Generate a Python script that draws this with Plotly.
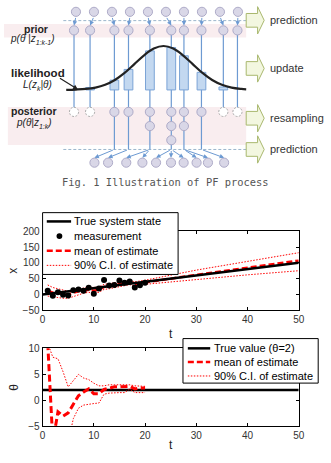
import plotly.graph_objects as go

# ---------------- data: state estimate (middle panel) ----------------
t_true = [0, 50]
x_true = [0, 100]
t_meas = list(range(1, 21))
x_meas = [12, -4, 7, -1, -3, 13, 16, 12, 21, 2, 19, 46, 28, 30, 44, 37, 41, 22, 29, 37]
t_est = list(range(1, 21)) + [30, 40, 50]
x_mean = [12, 6, 4, 1, 0, 5, 10, 12, 15, 12, 15, 24, 26, 28, 33, 35, 38, 32, 34, 38, 62, 84, 107]
x_upper = [30, 22, 18, 14, 10, 14, 18, 20, 23, 22, 24, 32, 34, 36, 40, 42, 44, 40, 42, 45, 77, 105, 132]
x_lower = [-5, -8, -10, -12, -12, -6, 0, 4, 7, 4, 7, 16, 18, 21, 25, 28, 31, 25, 27, 32, 48, 62, 75]

# ---------------- data: parameter estimate (bottom panel) ----------------
t_theta_true = [0, 50]
theta_true = [2, 2]
t_theta = list(range(1, 21))
theta_mean = [11, -8, -2.2, -3, -2.4, -0.8, 0.9, 1.6, 2.2, 1.3, 1.3, 2.1, 2.4, 2.6, 2.6, 2.6, 2.7, 2.2, 2.4, 2.4]
theta_upper = [11, 8.3, 8.0, 5.5, 2.6, 3.9, 5.0, 4.3, 4.0, 3.3, 2.8, 2.8, 3.0, 3.0, 3.0, 3.0, 3.0, 2.8, 2.7, 2.7]
theta_lower = [-20, -20, -15, -12, -8, -3.5, -1.5, -0.9, -0.7, -0.6, -0.5, 1.2, 1.4, 1.5, 1.5, 1.5, 2.2, 1.5, 1.5, 1.5]

x_ticks = [0, 10, 20, 30, 40, 50]
x_state_ticks = [-50, 0, 50, 100, 150, 200]
theta_ticks = [-5, 0, 5, 10]

# ---------------- data: PF illustration (top diagram) ----------------
top_x = [75, 93.5, 112, 130.5, 149, 167.5, 186, 204.5, 223, 241.5]
prior_x = [73, 89.5, 114.5, 129, 151, 173, 186, 204, 226.5, 241]
weights = [0, 2.5, 10, 21, 40, 43.5, 35, 18, 3, 0]
copies = [0, 0, 1, 1, 2, 3, 2, 1, 0, 0]
next_x = [94, 108, 126.7, 143.3, 157.3, 172.7, 185.7, 199, 210.7, 227.3]
curve_x = [65, 75, 85, 95, 105, 115, 125, 135, 145, 155, 165, 175, 185, 195, 205, 215, 225, 235, 245, 250]
curve_h = [0.1, 0.4, 1.0, 2.4, 5.3, 10.2, 17.4, 26.4, 35.5, 42.4, 45, 42.4, 35.5, 26.4, 17.4, 10.2, 5.3, 2.4, 1.0, 0.6]
stages = ["prediction", "update", "resampling", "prediction"]

# ---------------- layout constants ----------------
W, H = 331, 463
FONT = "Liberation Sans, Arial, sans-serif"


def px(v):
    return v / W


def py(v):
    return 1 - v / H


ROW_TOP, ROW_PRIOR, ROW_POST, ROW_STEP, ROW_NEXT = 7, 26, 109.5, 14.5, 161.5
BASE, R = 87, 4.7
DASH1, DASH2 = 16, 148
STAGE_Y = [15.7, 65, 116, 148]
BLUE = "#6d9ad2"
CIRC_FILL, CIRC_LINE = "#d9d7e7", "#aeabc8"
SUB = '<span style="font-size:7px;baseline-shift:-2.5px">{}</span>'

fig = go.Figure()

# middle panel
fig.add_trace(go.Scatter(x=t_est, y=x_upper, mode="lines", name="90% C.I. of estimate",
                         line=dict(color="red", width=1, dash="1.5px,1.5px"), xaxis="x", yaxis="y"))
fig.add_trace(go.Scatter(x=t_est, y=x_lower, mode="lines", showlegend=False,
                         line=dict(color="red", width=1, dash="1.5px,1.5px"), xaxis="x", yaxis="y"))
fig.add_trace(go.Scatter(x=t_est, y=x_mean, mode="lines", name="mean of estimate",
                         line=dict(color="red", width=2.5, dash="6px,3px"), xaxis="x", yaxis="y"))
fig.add_trace(go.Scatter(x=t_true, y=x_true, mode="lines", name="True system state",
                         line=dict(color="black", width=2.5), xaxis="x", yaxis="y"))
fig.add_trace(go.Scatter(x=t_meas, y=x_meas, mode="markers", name="measurement",
                         marker=dict(color="black", size=6), xaxis="x", yaxis="y"))

# bottom panel
fig.add_trace(go.Scatter(x=t_theta_true, y=theta_true, mode="lines", name="True value (θ=2)",
                         line=dict(color="black", width=2.7), xaxis="x2", yaxis="y2"))
fig.add_trace(go.Scatter(x=t_theta, y=theta_upper, mode="lines", name="90% C.I. of estimate",
                         line=dict(color="red", width=1, dash="1.5px,1.5px"), xaxis="x2", yaxis="y2"))
fig.add_trace(go.Scatter(x=t_theta, y=theta_lower, mode="lines", showlegend=False,
                         line=dict(color="red", width=1, dash="1.5px,1.5px"), xaxis="x2", yaxis="y2"))
fig.add_trace(go.Scatter(x=t_theta, y=theta_mean, mode="lines", name="mean of estimate",
                         line=dict(color="red", width=3, dash="7px,3.5px"), xaxis="x2", yaxis="y2"))

# diagram likelihood curve
fig.add_trace(go.Scatter(x=curve_x, y=[BASE - h for h in curve_h], mode="lines", line_shape="spline",
                         line=dict(color="#222", width=2.2), xaxis="x3", yaxis="y3", hoverinfo="skip"))

shapes = []
ann = []


def dshape(**kw):
    d = dict(xref="x3", yref="y3", layer="below")
    d.update(kw)
    shapes.append(d)


# pink bands
dshape(type="rect", x0=1, x1=250, y0=19.5, y1=33.3, fillcolor="#f9edef", line=dict(width=0))
dshape(type="rect", x0=5, x1=250, y0=104.5, y1=143.3, fillcolor="#f9edef", line=dict(width=0))
# dashed lines
for yv in (DASH1, DASH2):
    dshape(type="line", x0=62, x1=250, y0=yv, y1=yv, line=dict(color="#9db7cc", width=1, dash="3px,2px"))
# vertical particle lines
for i, xv in enumerate(prior_x):
    dshape(type="line", x0=xv, x1=xv, y0=ROW_PRIOR, y1=ROW_POST, line=dict(color=BLUE, width=1.2))
    if copies[i] > 0:
        dshape(type="line", x0=xv, x1=xv, y0=ROW_POST, y1=DASH2, line=dict(color=BLUE, width=1.2))
# weight boxes
for xv, w in zip(prior_x, weights):
    if w > 0:
        dshape(type="rect", x0=xv - 4.5, x1=xv + 4.5, y0=BASE - w, y1=BASE,
               fillcolor="#c3d8f0", line=dict(color="#7aa3d6", width=1))


def circle(xc, yc, dashed=False):
    if dashed:
        dshape(type="circle", x0=xc - R, x1=xc + R, y0=yc - R, y1=yc + R,
               fillcolor="white", line=dict(color="#aaaaaa", width=1, dash="2px,1.5px"))
    else:
        dshape(type="circle", x0=xc - R, x1=xc + R, y0=yc - R, y1=yc + R,
               fillcolor=CIRC_FILL, line=dict(color=CIRC_LINE, width=1))


for xv in top_x:
    circle(xv, ROW_TOP)
for xv in prior_x:
    circle(xv, ROW_PRIOR)
for i, xv in enumerate(prior_x):
    if copies[i] == 0:
        circle(xv, ROW_POST, dashed=True)
    for j in range(copies[i]):
        circle(xv, ROW_POST + j * ROW_STEP)
for xv in next_x:
    circle(xv, ROW_NEXT)

# green block arrows + stage labels
for yc, lab in zip(STAGE_Y, stages):
    path = (f"M 250 {yc-7} L 261.7 {yc-7} L 261.7 {yc-14} L 268.5 {yc} "
            f"L 261.7 {yc+14} L 261.7 {yc+7} L 250 {yc+7} Z")
    dshape(type="path", path=path, fillcolor="#f3f7e0", line=dict(color="#a9b86e", width=1))
    ann.append(dict(x=272.5, y=yc, xref="x3", yref="y3", text=lab, showarrow=False,
                    xanchor="left", yanchor="middle", font=dict(size=11, color="#333")))

# prediction arrows (top)
for xt, xp in zip(top_x, prior_x):
    ann.append(dict(x=xp, y=ROW_PRIOR - R - 0.3, ax=xt, ay=ROW_TOP + R, xref="x3", yref="y3",
                    axref="x3", ayref="y3", text="", showarrow=True, arrowhead=2, arrowsize=0.9,
                    arrowwidth=1, arrowcolor=BLUE, standoff=0, startstandoff=0))
# prediction arrows (bottom, after resampling)
parents = []
for i, xv in enumerate(prior_x):
    parents += [xv] * copies[i]
for xs, xe in zip(parents, next_x):
    ann.append(dict(x=xe, y=ROW_NEXT - R - 0.3, ax=xs, ay=DASH2, xref="x3", yref="y3",
                    axref="x3", ayref="y3", text="", showarrow=True, arrowhead=2, arrowsize=0.9,
                    arrowwidth=1, arrowcolor=BLUE, standoff=0, startstandoff=0))

# left labels (text, x, y, size, weight, style)
left_labels = [
    ("prior", 33.5, 24.2, 10.5, "bold", "normal"),
    ("p(θ |z" + SUB.format("1:k-1") + ")", 30.5, 35.8, 10, "normal", "italic"),
    ("likelihood", 36, 69.7, 11.5, "bold", "normal"),
    ("L(z" + SUB.format("k") + "|θ)", 35, 82.3, 10, "normal", "italic"),
    ("posterior", 31.5, 108.6, 10.5, "bold", "normal"),
    ("p(θ|z" + SUB.format("1:k") + ")", 31.5, 121.6, 10, "normal", "italic"),
]
for txt, xv, yv, fs, wt, st in left_labels:
    ann.append(dict(x=xv, y=yv, xref="x3", yref="y3", text=txt, showarrow=False,
                    xanchor="center", yanchor="middle",
                    font=dict(size=fs, color="#222", weight=wt, style=st)))
ann.append(dict(x=77, y=86.5, ax=57, ay=74, xref="x3", yref="y3", axref="x3", ayref="y3",
                text="", showarrow=True, arrowhead=2, arrowsize=0.8, arrowwidth=1.2, arrowcolor="#222"))

# caption
ann.append(dict(x=px(167), y=py(181), xref="paper", yref="paper", text="Fig. 1 Illustration of PF process",
                showarrow=False, xanchor="center", yanchor="middle",
                font=dict(size=10.4, color="#555", family="DejaVu Sans Mono, monospace")))


# manual legends (matlab style)
def legend_box(x0, x1, y0, y1):
    shapes.append(dict(type="rect", xref="paper", yref="paper", x0=px(x0), x1=px(x1), y0=py(y1), y1=py(y0),
                       fillcolor="white", line=dict(color="black", width=1), layer="above"))


def legend_line(x0, x1, yv, color, width, dash="solid"):
    shapes.append(dict(type="line", xref="paper", yref="paper", x0=px(x0), x1=px(x1), y0=py(yv), y1=py(yv),
                       line=dict(color=color, width=width, dash=dash), layer="above"))


def legend_text(xv, yv, txt):
    ann.append(dict(x=px(xv), y=py(yv), xref="paper", yref="paper", text=txt, showarrow=False,
                    xanchor="left", yanchor="middle", font=dict(size=11, color="black")))


legend_box(40.7, 180, 212.7, 276)
legend_line(45, 70, 221.7, "black", 2.5)
legend_text(70.5, 221.7, "True system state")
shapes.append(dict(type="circle", xref="paper", yref="paper", x0=px(55), x1=px(61), y0=py(239.7), y1=py(233.7),
                   fillcolor="black", line=dict(color="black", width=0), layer="above"))
legend_text(70.5, 236.7, "measurement")
legend_line(45, 70, 251.7, "red", 2.5, "6px,3px")
legend_text(70.5, 251.7, "mean of estimate")
legend_line(45, 70, 266.7, "red", 1, "1.5px,1.5px")
legend_text(70.5, 266.7, "90% C.I. of estimate")

legend_box(185, 324, 341.7, 387.3)
legend_line(190, 213, 351.7, "black", 2.5)
legend_text(214.5, 351.7, "True value (θ=2)")
legend_line(190, 213, 365.7, "red", 2.5, "6px,3px")
legend_text(214.5, 365.7, "mean of estimate")
legend_line(190, 213, 380, "red", 1, "1.5px,1.5px")
legend_text(214.5, 380, "90% C.I. of estimate")

axis_common = dict(showline=True, linecolor="black", linewidth=1, mirror="allticks", ticks="inside",
                   ticklen=3, tickcolor="black", showgrid=False, zeroline=False,
                   tickfont=dict(size=10, color="#333"), fixedrange=True)
title_font = dict(size=12, color="#222")

fig.update_layout(
    width=W, height=H, margin=dict(l=0, r=0, t=0, b=0),
    paper_bgcolor="white", plot_bgcolor="white", showlegend=False,
    font=dict(family=FONT, color="#222"),
    xaxis=dict(domain=[px(40.7), px(304)], range=[0, 50], tickvals=x_ticks, anchor="y",
               title=dict(text="t", font=title_font, standoff=5), **axis_common),
    yaxis=dict(domain=[py(312.7), py(231.7)], range=[-50, 200], tickvals=x_state_ticks, anchor="x",
               title=dict(text="x", font=title_font, standoff=2), **axis_common),
    xaxis2=dict(domain=[px(40.7), px(304)], range=[0, 50], tickvals=x_ticks, anchor="y2",
                title=dict(text="t", font=title_font, standoff=0), **axis_common),
    yaxis2=dict(domain=[py(431.7), py(351.7)], range=[-5, 10], tickvals=theta_ticks, anchor="x2",
                title=dict(text="θ", font=title_font, standoff=6), **axis_common),
    xaxis3=dict(domain=[0, 1], range=[0, W], visible=False, anchor="y3", fixedrange=True),
    yaxis3=dict(domain=[py(170), 1], range=[170, 0], visible=False, anchor="x3", fixedrange=True),
    shapes=shapes, annotations=ann,
)

fig.write_html("out.html")
